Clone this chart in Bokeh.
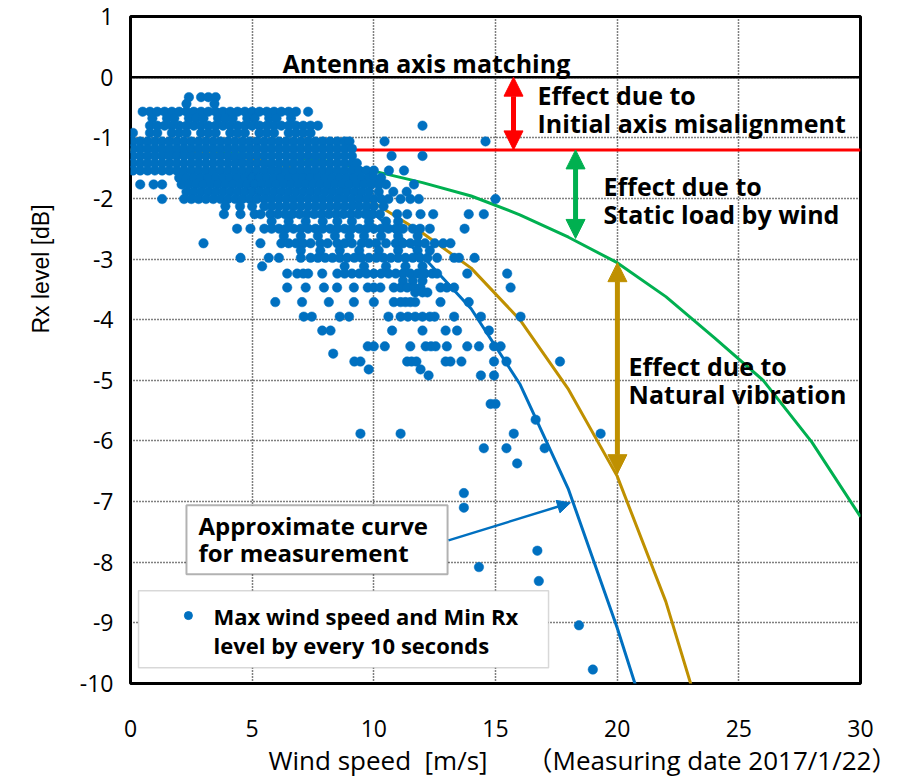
from bokeh.plotting import figure
from bokeh.models import Range1d, FixedTicker, Span, Label, Arrow, NormalHead, BoxAnnotation, ColumnDataSource, Title
from bokeh.embed import file_html
from bokeh.resources import INLINE

# ---------------- data ----------------
x_ticks = [0, 5, 10, 15, 20, 25, 30]
y_ticks = [-10, -9, -8, -7, -6, -5, -4, -3, -2, -1, 0, 1]

axis_match_db = 0.0
initial_misalignment_db = -1.2

# approximate curves (wind speed vs Rx level)
curve_wind = [0, 2, 4, 6, 8, 10, 12, 14, 16, 18, 20, 22, 24, 26, 28, 30]
static_load_db = [-1.2, -1.22, -1.25, -1.3, -1.38, -1.55, -1.74, -1.96, -2.27, -2.64, -3.06, -3.62, -4.3, -5.0, -6.02, -7.25]
natural_vib_db = [-1.2, -1.22, -1.28, -1.42, -1.68, -2.07, -2.57, -3.15, -4.0, -5.15, -6.58, -8.65, -11.3]
measured_fit_db = [-1.2, -1.24, -1.33, -1.5, -1.8, -2.25, -2.95, -3.82, -5.06, -6.8, -9.08, -11.6]

# measured points: Rx level rows and the wind speeds found on each row
rx_row_levels = [-0.33, -0.44, -0.57, -0.68, -0.80, -0.92, -1.06, -1.18, -1.30, -1.42, -1.54,
                 -1.66, -1.77, -1.89, -2.01, -2.13, -2.26, -2.38, -2.50, -2.62, -2.74, -2.86,
                 -2.98, -3.12, -3.24, -3.36, -3.47, -3.55, -3.71, -3.95, -4.18, -4.44, -4.56,
                 -4.69, -4.82, -4.92, -5.39, -5.65, -5.88, -6.12, -6.37, -6.86, -7.10, -7.81,
                 -8.08, -8.31, -9.04, -9.77]
wind_rows = [
    [2.4, 2.9, 3.2, 3.5],
    [2.3, 3.45],
    [0.5, 0.8, 1.1, 1.4, 1.7, 2.0, 2.3, 2.6, 2.9, 3.2, 3.5, 3.8, 4.1, 4.4, 4.7, 5.0, 5.3, 5.6, 5.9, 6.2, 6.5, 6.8, 7.3],
    [0.9, 1.5, 1.8, 2.4, 2.7, 3.0, 3.6, 3.9, 4.2, 4.8, 5.1, 5.7, 6.0, 6.6],
    [0.8, 1.1, 1.4, 1.7, 2.0, 2.3, 2.6, 2.9, 3.2, 3.5, 3.8, 4.1, 4.4, 4.7, 5.0, 5.3, 5.6, 5.9, 6.2, 6.5, 6.8, 7.1, 7.4, 7.7, 12.0],
    [0.1, 0.8, 1.1, 1.7, 2.0, 2.3, 2.9, 3.2, 3.5, 4.1, 4.4, 4.7, 5.3, 5.6, 5.9, 6.5, 6.8, 7.1, 7.4],
    [0.1, 0.4, 0.7, 1.0, 1.3, 1.6, 1.9, 2.2, 2.5, 2.8, 3.1, 3.4, 3.7, 4.0, 4.3, 4.6, 4.9, 5.2, 5.5, 5.8, 6.1, 6.4, 6.7, 7.0, 7.3, 7.6, 7.9, 8.2, 8.5, 8.8, 9.0, 10.44, 14.59],
    [0.1, 0.4, 0.7, 1.0, 1.3, 1.6, 1.9, 2.2, 2.5, 2.8, 3.1, 3.4, 3.7, 4.0, 4.3, 4.6, 4.9, 5.2, 5.5, 5.8, 6.1, 6.4, 6.7, 7.0, 7.3, 7.6, 7.9, 8.2, 8.5, 8.8, 9.1],
    [0.1, 0.4, 0.7, 1.0, 1.3, 1.6, 1.9, 2.2, 2.5, 2.8, 3.1, 3.4, 3.7, 4.0, 4.3, 4.6, 4.9, 5.2, 5.5, 5.8, 6.1, 6.4, 6.7, 7.0, 7.3, 7.6, 7.9, 8.2, 8.5, 8.8, 9.1, 10.73, 12.0],
    [0.1, 0.4, 0.7, 1.0, 1.3, 1.6, 1.9, 2.2, 2.5, 2.8, 3.1, 3.4, 3.7, 4.0, 4.3, 4.6, 4.9, 5.2, 5.5, 5.8, 6.1, 6.4, 6.7, 7.0, 7.3, 7.6, 7.9, 8.2, 8.5, 8.8, 9.1, 9.3],
    [0.1, 0.4, 0.7, 1.0, 1.3, 1.6, 1.9, 2.2, 2.5, 2.8, 3.1, 3.4, 3.7, 4.0, 4.3, 4.6, 4.9, 5.2, 5.5, 5.8, 6.1, 6.4, 6.7, 7.0, 7.3, 7.6, 7.9, 8.2, 8.5, 8.8, 9.1, 9.4, 9.7, 10.0, 10.62, 11.24],
    [2.0, 2.3, 2.6, 2.9, 3.2, 3.5, 3.8, 4.1, 4.4, 4.7, 5.0, 5.3, 5.6, 5.9, 6.2, 6.5, 6.8, 7.1, 7.4, 7.7, 8.0, 8.3, 8.6, 8.9, 9.2, 9.5, 9.8, 10.0, 10.3],
    [0.4, 0.95, 1.3, 2.1, 2.4, 2.7, 3.0, 3.3, 3.6, 3.9, 4.2, 4.5, 4.8, 5.1, 5.4, 5.7, 6.0, 6.3, 6.6, 6.9, 7.2, 7.5, 7.8, 8.1, 8.4, 8.7, 9.0, 9.3, 9.6, 9.9, 10.2, 10.5, 11.65],
    [2.3, 2.6, 2.9, 3.2, 3.5, 3.8, 4.1, 4.4, 4.7, 5.0, 5.3, 5.6, 5.9, 6.2, 6.5, 6.8, 7.1, 7.4, 7.7, 8.0, 8.3, 8.6, 8.9, 9.2, 9.5, 9.8, 10.2, 10.8, 11.35],
    [1.3, 2.2, 2.5, 2.8, 3.1, 3.4, 3.7, 4.0, 4.3, 4.6, 4.9, 5.2, 5.5, 5.8, 6.1, 6.4, 6.7, 7.0, 7.3, 7.6, 7.9, 8.2, 8.5, 8.8, 9.1, 9.4, 9.7, 10.0, 10.3, 10.6, 11.1, 11.5, 11.85, 15.0],
    [3.9, 4.5, 5.0, 5.5, 5.8, 6.1, 6.4, 6.7, 7.0, 7.3, 7.6, 7.9, 8.2, 8.5, 8.8, 9.1, 9.4, 9.7, 10.0, 10.4],
    [3.84, 4.52, 5.1, 5.35, 5.75, 6.05, 6.35, 6.65, 6.95, 7.25, 7.55, 7.85, 8.15, 8.45, 8.75, 9.05, 9.35, 9.65, 9.95, 10.25, 10.96, 11.37, 11.92, 12.44, 13.9, 14.52],
    [5.8, 6.5, 7.2, 7.9, 8.5, 9.1, 9.8, 10.5, 11.0],
    [4.38, 4.93, 5.5, 5.8, 6.1, 6.4, 6.7, 7.0, 7.3, 7.6, 7.9, 8.2, 8.5, 8.8, 9.1, 9.4, 9.7, 10.0, 10.3, 10.6, 10.9, 11.2, 11.6, 11.9, 12.3, 13.73],
    [6.3, 7.0, 7.7, 8.4, 9.0, 9.6, 10.3, 11.0, 11.8],
    [3.0, 5.34, 6.2, 6.5, 6.8, 7.1, 7.4, 7.8, 8.1, 8.5, 8.8, 9.1, 9.5, 9.8, 10.1, 10.5, 10.9, 11.2, 11.5, 11.8, 12.1, 12.5, 12.85, 13.15],
    [7.0, 7.8, 8.6, 9.4, 10.2, 11.0, 11.8, 12.3],
    [4.52, 5.68, 6.1, 7.0, 7.4, 7.7, 8.0, 8.3, 8.6, 8.9, 9.2, 9.5, 9.8, 10.1, 10.4, 10.7, 11.0, 11.3, 11.6, 11.9, 12.2, 12.6, 13.3, 13.5, 14.14],
    [5.41, 8.8, 9.6, 10.5, 11.3, 12.0],
    [6.44, 6.85, 7.1, 7.3, 7.88, 8.5, 8.8, 9.1, 9.4, 9.7, 10.0, 10.3, 10.6, 10.9, 11.2, 11.5, 11.8, 12.1, 12.4, 12.6, 13.84, 15.48],
    [11.2, 11.6, 12.0],
    [6.44, 7.2, 7.95, 8.49, 9.18, 9.75, 10.0, 10.27, 10.82, 11.1, 11.37, 11.65, 11.92, 12.74, 13.0, 13.3, 15.62],
    [11.7, 12.0, 12.2],
    [5.95, 7.05, 8.15, 9.18, 10.0, 10.82, 11.1, 11.3, 11.5, 11.7, 12.74, 13.9],
    [7.12, 7.45, 8.6, 8.98, 10.6, 11.1, 11.4, 11.7, 12.0, 12.3, 12.5, 13.3, 14.4, 16.03],
    [7.88, 8.22, 10.75, 12.0, 12.95, 13.42, 14.73],
    [9.75, 10.0, 10.45, 11.5, 12.13, 12.35, 12.54, 13.0, 13.84, 14.32, 14.94, 15.21],
    [8.33],
    [9.2, 9.45, 11.37, 11.55, 11.75, 12.95, 13.15, 13.6, 14.94, 15.45, 17.65],
    [9.79, 11.92],
    [12.25, 14.4, 14.94],
    [14.8, 15.0],
    [16.65],
    [9.45, 11.1, 15.75, 19.32],
    [14.52, 15.45, 17.02],
    [15.89],
    [13.7],
    [13.7],
    [16.72],
    [14.32],
    [16.78],
    [18.43],
    [19.0],
]

# ---------------- styling ----------------
BLUE = "#0070C0"
GOLD = "#BF9000"
GREEN = "#00B050"
RED = "#FF0000"
BOLD_FONT = "Open Sans"

p = figure(width=896, height=780, output_backend="svg", toolbar_location=None,
           x_range=Range1d(0, 30), y_range=Range1d(-10, 1))
p.min_border_left = 130
p.min_border_right = 36
p.min_border_top = 16
p.min_border_bottom = 97
p.background_fill_color = "white"
p.border_fill_color = "white"
p.outline_line_color = "black"
p.outline_line_width = 3

p.xaxis.ticker = FixedTicker(ticks=x_ticks)
p.yaxis.ticker = FixedTicker(ticks=y_ticks)
p.xaxis.major_label_overrides = {t: str(t) for t in x_ticks}
p.yaxis.major_label_overrides = {t: str(t) for t in y_ticks}
for ax in (p.xaxis, p.yaxis):
    ax.axis_line_color = None
    ax.major_tick_line_color = None
    ax.minor_tick_line_color = None
    ax.major_tick_out = 0
    ax.major_tick_in = 0
    ax.minor_tick_out = 0
    ax.major_label_text_font = "Open Sans"
    ax.major_label_text_font_size = "23px"
    ax.major_label_text_color = "black"
p.xaxis.major_label_standoff = 36
p.yaxis.major_label_standoff = 17

for g in (p.xgrid, p.ygrid):
    g.grid_line_color = "black"
    g.grid_line_dash = "1 2"
    g.grid_line_width = 1.5

# flatten the measured rows
ws, rx = [], []
for level, row in zip(rx_row_levels, wind_rows):
    for v in row:
        ws.append(v)
        rx.append(level)
src = ColumnDataSource(dict(ws=ws, rx=rx))

# lines (under the points)
p.line([x_ticks[0], x_ticks[-1]], [initial_misalignment_db, initial_misalignment_db], line_color=RED, line_width=3)
p.line(curve_wind, static_load_db, line_color=GREEN, line_width=3)
p.line(curve_wind[:len(natural_vib_db)], natural_vib_db, line_color=GOLD, line_width=3)
p.line(curve_wind[:len(measured_fit_db)], measured_fit_db, line_color=BLUE, line_width=3)

p.scatter("ws", "rx", source=src, size=9.5, fill_color=BLUE, line_color=BLUE, line_width=0.5)

# antenna axis matching line
p.add_layout(Span(location=axis_match_db, dimension="width", line_color="black", line_width=2.5))

def txt(x, y, s, size="25px", align="left"):
    p.add_layout(Label(x=x, y=y, text=s, text_font=BOLD_FONT, text_font_size=size,
                       text_font_style="bold", text_color="black",
                       text_align=align, text_baseline="middle"))

txt(12.16, 0.24, "Antenna axis matching", size="25px", align="center")
txt(16.73, -0.30, "Effect due to")
txt(16.73, -0.76, "Initial axis misalignment")
txt(19.44, -1.79, "Effect due to")
txt(19.44, -2.25, "Static load by wind")
txt(20.47, -4.76, "Effect due to")
txt(20.47, -5.22, "Natural vibration")

# double arrows
def darrow(x, y0, y1, color, w=5, hs=19):
    p.add_layout(Arrow(x_start=x, y_start=y0, x_end=x, y_end=y1, line_color=color, line_width=w,
                       start=NormalHead(size=hs, fill_color=color, line_color=color),
                       end=NormalHead(size=hs, fill_color=color, line_color=color)))

darrow(15.74, axis_match_db, initial_misalignment_db, RED)
darrow(18.29, initial_misalignment_db, -2.66, GREEN)
darrow(20.01, -3.06, -6.54, GOLD)

# approximate curve callout
p.add_layout(BoxAnnotation(left=2.30, right=13.03, top=-7.06, bottom=-8.20, fill_color="white",
                           fill_alpha=1, line_color="black", line_width=2))
txt(2.79, -7.39, "Approximate curve", size="24px")
txt(2.79, -7.84, "for measurement", size="24px")
p.add_layout(Arrow(x_start=13.07, y_start=-7.64, x_end=18.08, y_end=-7.02, line_color=BLUE, line_width=2.5,
                   end=NormalHead(size=13, fill_color=BLUE, line_color=BLUE)))

# legend
p.add_layout(BoxAnnotation(left=0.33, right=17.18, top=-8.47, bottom=-9.74, fill_color="white",
                           fill_alpha=1, line_color="#7f7f7f", line_width=1.5))
leg = p.scatter([2.38], [-8.88], size=8, fill_color=BLUE, line_color=BLUE)
leg.level = "overlay"
txt(3.41, -8.88, "Max wind speed and Min Rx", size="22px")
txt(3.41, -9.37, "level by every 10 seconds", size="22px")

# axis titles
x_title = Title(text="Wind speed\u00a0 [m/s]\u3000\u3000\uff08Measuring date 2017/1/22\uff09", align="left", offset=138,
                text_font="'Open Sans', 'Noto Sans CJK JP'", text_font_size="26px",
                text_font_style="normal", text_color="black", standoff=0)
p.add_layout(x_title, "below")
y_title = Title(text="Rx level [dB]", align="left", offset=350, vertical_align="top",
                text_font="Liberation Sans", text_font_size="23px",
                text_font_style="normal", text_color="black", standoff=42)
p.add_layout(y_title, "left")

open("out.html", "w").write(file_html(p, INLINE))
